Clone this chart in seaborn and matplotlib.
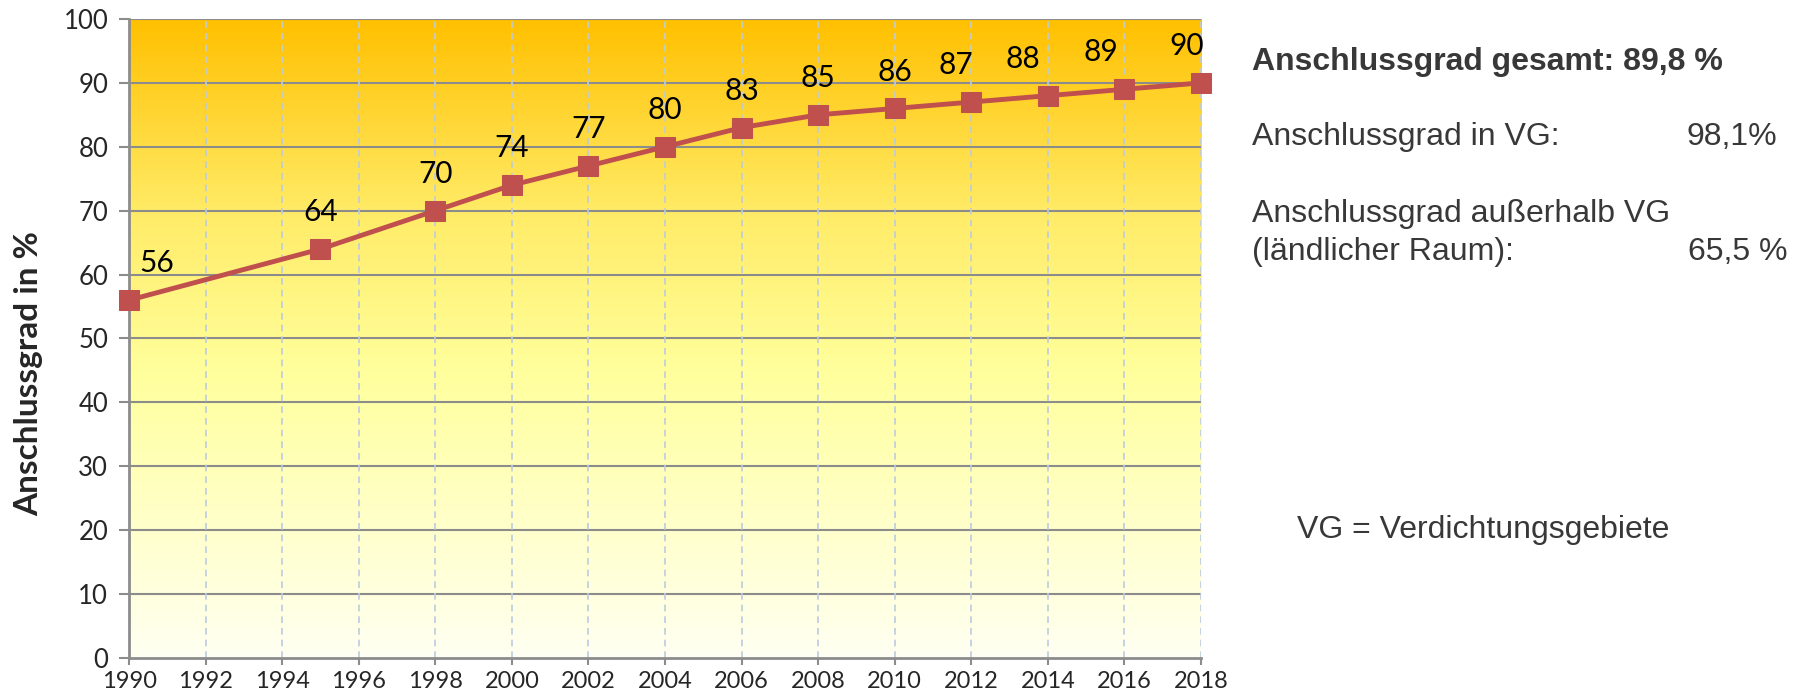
import seaborn as sns
import matplotlib.pyplot as plt
import numpy as np
import pandas as pd
from matplotlib.colors import LinearSegmentedColormap

years = [1990, 1995, 1998, 2000, 2002, 2004, 2006, 2008, 2010, 2012, 2014, 2016, 2018]
grad = [56, 64, 70, 74, 77, 80, 83, 85, 86, 87, 88, 89, 90]
xticks = list(range(1990, 2019, 2))
yticks = list(range(0, 101, 10))

df = pd.DataFrame({'Jahr': years, 'Anschlussgrad': grad})

sns.set_style('white')
plt.rcParams['font.family'] = ['Lato', 'DejaVu Sans']

fig = plt.figure(figsize=(18.02, 6.98), dpi=100)
ax = fig.add_axes([0.0716, 0.0573, 0.5949, 0.9155])

# background gradient, pale at bottom, orange at top
cmap = LinearSegmentedColormap.from_list('bg', [
    (0.0, '#FFFFF2'), (0.45, '#FFFF9C'), (0.7, '#FFEB66'), (1.0, '#FFC000')])
grd = np.linspace(0, 1, 256).reshape(-1, 1)
ax.imshow(grd, extent=[1990, 2018, 0, 100], origin='lower', aspect='auto',
          cmap=cmap, zorder=0)

sns.lineplot(data=df, x='Jahr', y='Anschlussgrad', ax=ax, color='#C0504D',
             linewidth=3.5, marker='s', markersize=14.5, markeredgecolor='#C0504D',
             zorder=5, clip_on=False)

# horizontal nudge of the value labels (points), the last ones sit left
label_dx = [20, 0, 0, 0, 0, 0, 0, 0, 0, -11, -18, -17, -10]
for x, y, dx in zip(years, grad, label_dx):
    ax.annotate(str(y), (x, y), xytext=(dx, 20), textcoords='offset points',
                ha='center', va='baseline', fontsize=21.5, color='black', zorder=6)

ax.set_xlim(1990, 2018)
ax.set_ylim(0, 100)
ax.set_xticks(xticks)
ax.set_yticks(yticks)
ax.tick_params(axis='y', labelsize=18.5, direction='out', length=7, width=1.5,
               color='#8C8C8C', pad=8, left=True)
ax.tick_params(axis='x', labelsize=17, direction='out', length=5, width=1.5,
               color='#8C8C8C', pad=4, bottom=True)

for y in yticks[1:]:
    ax.axhline(y, color='#8C8C8C', linewidth=1.5, zorder=1)
for x in xticks[1:]:
    ax.axvline(x, color='#BCCBE0', linewidth=1.2, linestyle=(0, (4, 3)), zorder=1)

for s in ['top', 'right']:
    ax.spines[s].set_visible(False)
for s in ['left', 'bottom']:
    ax.spines[s].set_color('#8C8C8C')
    ax.spines[s].set_linewidth(2)
    ax.spines[s].set_zorder(2)

ax.set_xlabel('')
ax.set_ylabel('')
fig.text(29 / 1802, 1 - 374 / 698, 'Anschlussgrad in %', rotation=90,
         ha='center', va='center', fontsize=24, fontweight='bold')

# text block on the right
tf = ['Liberation Sans', 'DejaVu Sans']
tc = '#383838'
fs = 23
W, H = 1802, 698
fig.text(1252 / W, 1 - 70 / H, 'Anschlussgrad gesamt: 89,8 %', family=tf,
         fontsize=fs, fontweight='bold', color=tc, va='baseline')
fig.text(1252 / W, 1 - 145 / H, 'Anschlussgrad in VG:', family=tf,
         fontsize=fs, color=tc, va='baseline')
fig.text(1687 / W, 1 - 145 / H, '98,1%', family=tf,
         fontsize=fs, color=tc, va='baseline')
fig.text(1252 / W, 1 - 222 / H, 'Anschlussgrad außerhalb VG', family=tf,
         fontsize=fs, color=tc, va='baseline')
fig.text(1252 / W, 1 - 260 / H, '(ländlicher Raum):', family=tf,
         fontsize=fs, color=tc, va='baseline')
fig.text(1688 / W, 1 - 260 / H, '65,5 %', family=tf,
         fontsize=fs, color=tc, va='baseline')
fig.text(1297 / W, 1 - 538 / H, 'VG = Verdichtungsgebiete', family=tf,
         fontsize=fs, color=tc, va='baseline')

fig.savefig('out.png', dpi=100)
